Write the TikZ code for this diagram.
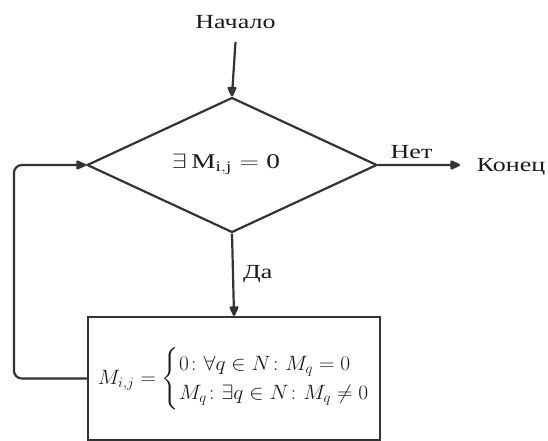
\documentclass[tikz,border=0pt]{standalone}
\usepackage{fontspec}
\usepackage{amsmath}
\setmainfont{Liberation Serif}
\usetikzlibrary{shapes.geometric}
\definecolor{lineclr}{HTML}{333333}
\definecolor{txtclr}{HTML}{1A1A1A}
\newcommand{\wtxt}[1]{\scalebox{1.3}[1]{#1}}
\begin{document}
\begin{tikzpicture}[x=1pt,y=1pt,
  lbl/.style={inner sep=0pt, text=txtclr, font=\fontsize{20}{22}\selectfont},
  conn/.style={draw=lineclr, line width=2.2pt, line join=round},
  connfill/.style={conn, fill=lineclr},
  decision/.style={diamond, draw=lineclr, line width=2.2pt, inner sep=0pt,
    minimum width=290pt, minimum height=135pt},
  procbox/.style={rectangle, draw=lineclr, line width=2.2pt, inner sep=0pt,
    minimum width=292pt, minimum height=123pt}]
\useasboundingbox (0,0) rectangle (548,-441);
\node[lbl] (start) at (235.5,-22) {\wtxt{Начало}};
\node[decision] (dia) at (232,-165) {};
\node[lbl, font=\fontsize{21}{24}\selectfont] (cond) at (226,-164) {\wtxt{$\exists\,\mathrm{M}_{\mathrm{i,j}} = \mathrm{0}$}};
\node[lbl] (fin) at (511,-167) {\wtxt{Конец}};
\node[procbox] (box) at (234,-378.5) {};
\node[lbl, font=\fontsize{20}{24}\selectfont] (formula) at (244,-379) {\scalebox{1.03}[1]{$M_{i,j} = \begin{cases} 0\colon \forall q \in N\colon M_q = 0 \\ M_q\colon \exists q \in N\colon M_q \neq 0 \end{cases}$}};
\coordinate (notip) at (459,-165);
% connectors with their arrowheads drawn as part of the same path
\filldraw[connfill] ([yshift=-13pt]start.south) -- ([yshift=1pt]dia.north)
  -- ++(-3.5,7.5) -- ++(7,0) -- ([yshift=1pt]dia.north);
\filldraw[connfill] (dia.east) -- (notip)
  node[lbl, pos=0.5, above=5pt, xshift=-7pt] (no) {\wtxt{Нет}}
  -- ++(-7.5,3.5) -- ++(0,-7) -- (notip);
\filldraw[connfill] (dia.south) -- ([yshift=1pt]box.north)
  node[lbl, pos=0.5, right=9pt] (yes) {\wtxt{Да}}
  -- ++(-3.5,7.5) -- ++(7,0) -- ([yshift=1pt]box.north);
\draw[conn, rounded corners=8pt] (box.west) -- ++(-73,0) |- ([xshift=-1pt]dia.west);
\draw[conn] ([xshift=-1pt]dia.west) -- ++(-7.5,3.5) -- ++(0,-7) -- ([xshift=-1pt]dia.west) -- ++(-6,0);
\end{tikzpicture}
\end{document}
